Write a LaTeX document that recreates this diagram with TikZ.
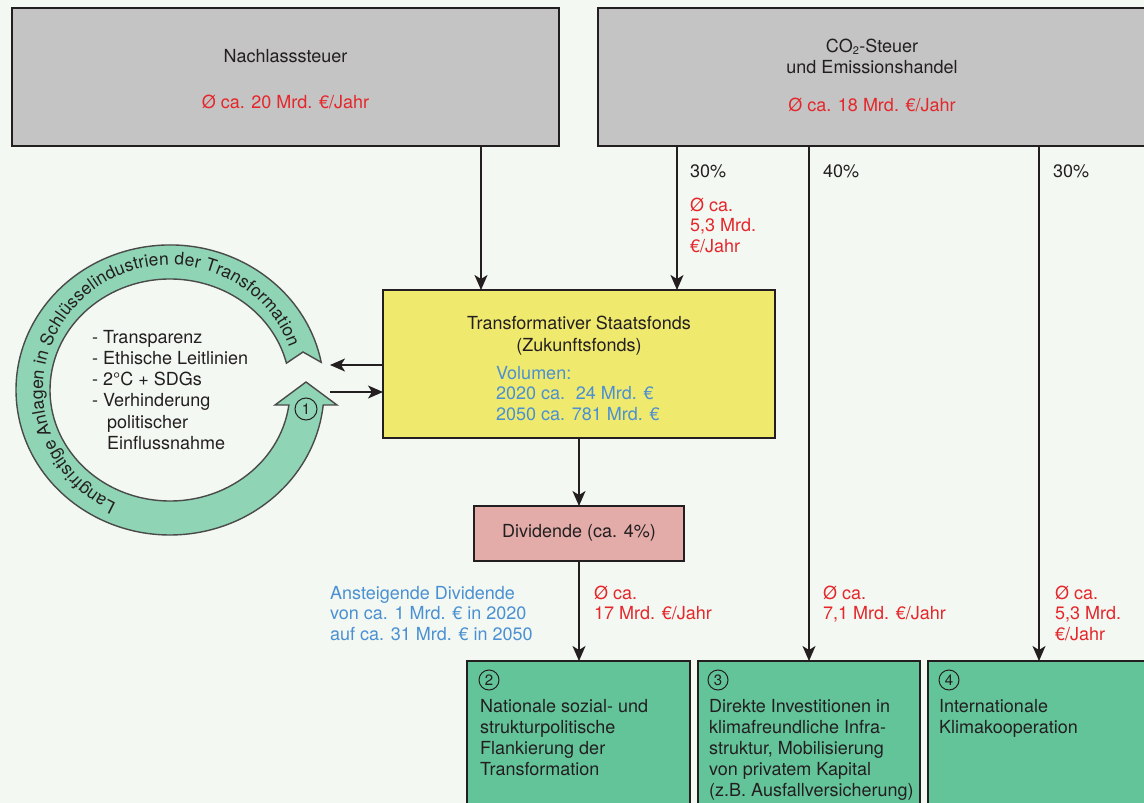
\documentclass[tikz,border=0pt]{standalone}
\usepackage{fontspec}
\setmainfont{TeX Gyre Heros}
\usetikzlibrary{arrows.meta,decorations.text}
\definecolor{bg}{HTML}{F3F8F2}
\definecolor{grayfill}{HTML}{C3C4C3}
\definecolor{yelfill}{HTML}{EFE96E}
\definecolor{pinkfill}{HTML}{E4ACA9}
\definecolor{greenfill}{HTML}{63C49A}
\definecolor{ringfill}{HTML}{8FD4B4}
\definecolor{ringline}{HTML}{4A4A4A}
\definecolor{ink}{HTML}{231F20}
\definecolor{rd}{HTML}{E5262B}
\definecolor{bl}{HTML}{4A90D2}
\newcommand{\mlines}[2][l]{\begin{tabular}[t]{@{}#1@{}}#2\end{tabular}}
\newcommand{\ringfont}{\fontsize{17.5}{17.5}\selectfont}
\tikzset{
  box/.style={draw=ink, line width=1.5pt, inner sep=0pt, outer sep=0pt, anchor=north west},
  txt/.style={text=ink, font=\fontsize{18}{21}\selectfont, inner sep=0pt, anchor=base},
  txtl/.style={txt, anchor=base west},
  tight/.style={font=\fontsize{18}{20.5}\selectfont},
  arr/.style={draw=ink, line width=1.6pt, -{Stealth[length=15pt,width=13pt,inset=4pt]}},
  circnum/.style={circle, draw=ink, line width=1pt, minimum size=20pt, inner sep=0pt,
    font=\fontsize{15}{15}\selectfont, text=ink}
}
\begin{document}
\begin{tikzpicture}[x=1pt,y=1pt]
\useasboundingbox (0,0) rectangle (1144,-803);
\fill[bg] (0,0) rectangle (1144,-803);
\clip (0,0) rectangle (1144,-803);

% boxes
\node[box, fill=grayfill, minimum width=547pt, minimum height=138pt] (nach) at (12,-8) {};
\node[box, fill=grayfill, minimum width=552pt, minimum height=138pt] (co2) at (598,-8) {};
\node[box, fill=yelfill, minimum width=392pt, minimum height=148pt] (yel) at (383,-290) {};
\node[box, fill=pinkfill, minimum width=210pt, minimum height=55pt] (div) at (474,-506) {};
\node[box, fill=greenfill, minimum width=223pt, minimum height=160pt] (b2) at (467,-661) {};
\node[box, fill=greenfill, minimum width=222pt, minimum height=160pt] (b3) at (698,-661) {};
\node[box, fill=greenfill, minimum width=222pt, minimum height=160pt] (b4) at (928,-661) {};

% ring
\path[fill=ringfill, draw=ringline, line width=1.4pt, line join=miter]
  (321.2,-362.3) arc[start angle=11, end angle=354.06, x radius=154, y radius=145]
  -- (337,-405) -- (306,-382) -- (275,-405) -- (288.9,-405)
  arc[start angle=352.23, end angle=14, x radius=120, y radius=111]
  -- (303,-352) -- cycle;
\path[font=\ringfont, decorate, decoration={text along path, text align={fit to path},
  text={|\ringfont\color{ink}|Langfristige Anlagen in Schlüsselindustrien der Transformation}}]
  (116.3,-503.3) arc[start angle=245, end angle=20, x radius=127, y radius=125];
\node[circnum, minimum size=22pt] (n1) at (306,-409) {1};
\node[txtl, font=\fontsize{18}{21.3}\selectfont] (ringtxt) at (92,-343)
  {\mlines{- Transparenz\\- Ethische Leitlinien\\- 2°C + SDGs\\- Verhinderung\\\hspace*{15pt}politischer\\\hspace*{15pt}Einflussnahme}};

% connectors
\coordinate (ringA) at (330,-365);
\coordinate (ringB) at (330,-392);
\draw[arr] ([xshift=195.5pt]nach.south) -- ([xshift=-98pt]yel.north);
\draw[arr] ([xshift=-197pt]co2.south) -- ([xshift=98pt]yel.north);
\draw[arr] ([xshift=-65pt]co2.south) -- (b3.north);
\draw[arr] ([xshift=165pt]co2.south) -- (b4.north);
\draw[arr] (yel.south) -- (div.north);
\draw[arr] (div.south) -- (div.south |- b2.north);
\draw[arr] (yel.west |- ringA) -- (ringA);
\draw[arr] (ringB) -- (yel.west |- ringB);

% texts top
\node[txt] (tnach) at (285.5,-62) {Nachlasssteuer};
\node[txt, text=rd] (tnachr) at (285.5,-108) {Ø ca. 20 Mrd. €/Jahr};
\node[txt] (tco2) at (872,-52) {\mlines[c]{CO\textsubscript{\fontsize{11}{11}\selectfont 2}-Steuer\\und Emissionshandel}};
\node[txt, text=rd] (tco2r) at (872,-111) {Ø ca. 18 Mrd. €/Jahr};
\node[txtl] (p1) at (690,-177) {30\%};
\node[txtl, tight, text=rd] (p1r) at (690,-211) {\mlines{Ø ca.\\5,3 Mrd.\\€/Jahr}};
\node[txtl] (p2) at (823,-177) {40\%};
\node[txtl] (p3) at (1053,-177) {30\%};

% yellow box texts
\node[txt, font=\fontsize{18}{22}\selectfont] (tyel) at (579,-329) {\mlines[c]{Transformativer Staatsfonds\\(Zukunftsfonds)}};
\node[txtl, tight, text=bl] (tvol) at (496,-379) {\mlines{Volumen:\\2020 ca.\hspace{4pt} 24 Mrd. €\\2050 ca. 781 Mrd. €}};

% dividend
\node[txt] (tdiv) at (579,-537) {Dividende (ca. 4\%)};
\node[txtl, tight, text=bl] (tasd) at (330,-599) {\mlines{Ansteigende Dividende\\von ca. 1 Mrd. € in 2020\\auf ca. 31 Mrd. € in 2050}};
\node[txtl, tight, text=rd] (l17) at (594,-599) {\mlines{Ø ca.\\17 Mrd. €/Jahr}};
\node[txtl, tight, text=rd] (l71) at (823,-599) {\mlines{Ø ca.\\7,1 Mrd. €/Jahr}};
\node[txtl, tight, text=rd] (l53) at (1055,-599) {\mlines{Ø ca.\\5,3 Mrd.\\€/Jahr}};

% bottom boxes
\node[circnum] (n2) at (489,-680) {2};
\node[circnum] (n3) at (718,-680) {3};
\node[circnum] (n4) at (949,-680) {4};
\node[txtl] (tb2) at (480,-712) {\mlines{Nationale sozial- und\\strukturpolitische\\Flankierung der\\Transformation}};
\node[txtl] (tb3) at (709,-712) {\mlines{Direkte Investitionen in\\klimafreundliche Infra-\\struktur, Mobilisierung\\von privatem Kapital\\(z.B. Ausfallversicherung)}};
\node[txtl] (tb4) at (939,-712) {\mlines{Internationale\\Klimakooperation}};
\end{tikzpicture}
\end{document}
